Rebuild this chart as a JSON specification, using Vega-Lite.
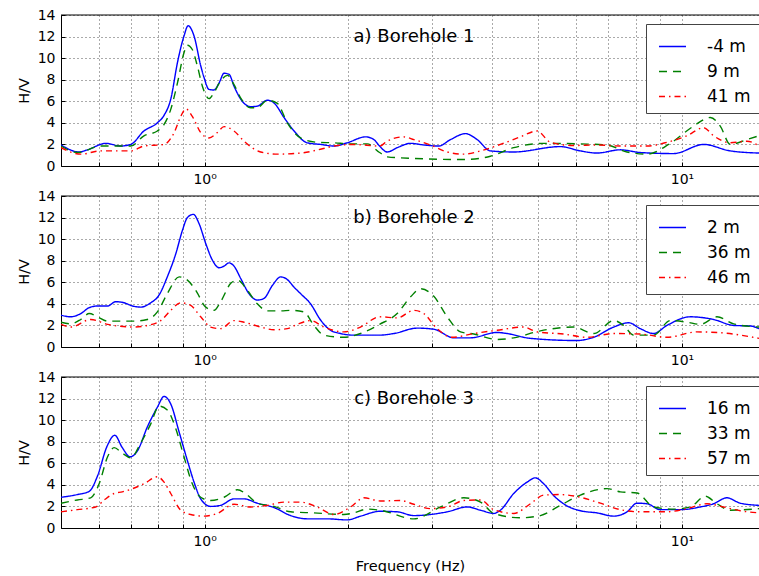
{
"$schema": "https://vega.github.io/schema/vega-lite/v6.json",
"padding": {"left": 16, "top": 8, "right": 0, "bottom": 0},
"background": "white",
"config": {
  "font": "DejaVu Sans",
  "view": {"stroke": null},
  "axis": {"labelFont": "DejaVu Sans", "labelFontSize": 14, "labelColor": "black", "labelOverlap": false, "titleFont": "DejaVu Sans", "titleFontSize": 14.5, "titleFontWeight": "normal", "titleColor": "black", "domainColor": "black", "domainWidth": 1, "gridColor": "#555555", "gridDash": [1, 3], "gridWidth": 1, "gridOpacity": 1, "tickColor": "black", "tickSize": -4, "tickWidth": 1},
  "axisX": {"labelPadding": 10, "titlePadding": 11},
  "axisY": {"labelPadding": 10, "titlePadding": 6},
  "title": {"font": "DejaVu Sans", "fontSize": 18, "fontWeight": "normal", "color": "black", "anchor": "middle", "frame": "group", "baseline": "alphabetic", "offset": -38, "dx": 4},
  "legend": {"orient": "none", "legendX": 585, "legendY": 9, "padding": 8, "fillColor": "white", "strokeColor": "#444444", "cornerRadius": 0, "labelFont": "DejaVu Sans", "labelFontSize": 17, "labelColor": "black", "symbolType": "stroke", "symbolSize": 729, "symbolStrokeWidth": 1.5, "symbolOffset": 4, "rowPadding": 2, "labelOffset": 20, "title": null}
},
"datasets": {"hv": [
{"bh":"a","depth":"-4 m","f":0.500,"hv":1.95},{"bh":"a","depth":"-4 m","f":0.546,"hv":1.3},{"bh":"a","depth":"-4 m","f":0.568,"hv":1.5},{"bh":"a","depth":"-4 m","f":0.621,"hv":2.1},{"bh":"a","depth":"-4 m","f":0.667,"hv":1.85},{"bh":"a","depth":"-4 m","f":0.700,"hv":2.0},{"bh":"a","depth":"-4 m","f":0.746,"hv":3.25},{"bh":"a","depth":"-4 m","f":0.796,"hv":4.0},{"bh":"a","depth":"-4 m","f":0.822,"hv":4.7},{"bh":"a","depth":"-4 m","f":0.849,"hv":6.2},{"bh":"a","depth":"-4 m","f":0.877,"hv":9.6},{"bh":"a","depth":"-4 m","f":0.905,"hv":12.05},{"bh":"a","depth":"-4 m","f":0.923,"hv":13.0},{"bh":"a","depth":"-4 m","f":0.950,"hv":12.05},{"bh":"a","depth":"-4 m","f":0.981,"hv":9.3},{"bh":"a","depth":"-4 m","f":0.997,"hv":8.2},{"bh":"a","depth":"-4 m","f":1.021,"hv":7.1},{"bh":"a","depth":"-4 m","f":1.046,"hv":7.05},{"bh":"a","depth":"-4 m","f":1.072,"hv":7.7},{"bh":"a","depth":"-4 m","f":1.098,"hv":8.6},{"bh":"a","depth":"-4 m","f":1.125,"hv":8.5},{"bh":"a","depth":"-4 m","f":1.152,"hv":7.4},{"bh":"a","depth":"-4 m","f":1.190,"hv":6.2},{"bh":"a","depth":"-4 m","f":1.248,"hv":5.5},{"bh":"a","depth":"-4 m","f":1.289,"hv":5.55},{"bh":"a","depth":"-4 m","f":1.353,"hv":6.1},{"bh":"a","depth":"-4 m","f":1.397,"hv":5.85},{"bh":"a","depth":"-4 m","f":1.466,"hv":4.5},{"bh":"a","depth":"-4 m","f":1.539,"hv":3.25},{"bh":"a","depth":"-4 m","f":1.640,"hv":2.15},{"bh":"a","depth":"-4 m","f":1.749,"hv":2.0},{"bh":"a","depth":"-4 m","f":1.865,"hv":1.85},{"bh":"a","depth":"-4 m","f":1.989,"hv":2.15},{"bh":"a","depth":"-4 m","f":2.173,"hv":2.7},{"bh":"a","depth":"-4 m","f":2.262,"hv":2.45},{"bh":"a","depth":"-4 m","f":2.325,"hv":1.85},{"bh":"a","depth":"-4 m","f":2.412,"hv":1.3},{"bh":"a","depth":"-4 m","f":2.531,"hv":1.7},{"bh":"a","depth":"-4 m","f":2.700,"hv":2.1},{"bh":"a","depth":"-4 m","f":2.879,"hv":1.95},{"bh":"a","depth":"-4 m","f":3.095,"hv":1.85},{"bh":"a","depth":"-4 m","f":3.274,"hv":2.45},{"bh":"a","depth":"-4 m","f":3.520,"hv":3.0},{"bh":"a","depth":"-4 m","f":3.723,"hv":2.45},{"bh":"a","depth":"-4 m","f":3.968,"hv":1.4},{"bh":"a","depth":"-4 m","f":4.441,"hv":1.3},{"bh":"a","depth":"-4 m","f":5.562,"hv":1.8},{"bh":"a","depth":"-4 m","f":6.125,"hv":1.4},{"bh":"a","depth":"-4 m","f":6.637,"hv":1.2},{"bh":"a","depth":"-4 m","f":7.428,"hv":1.5},{"bh":"a","depth":"-4 m","f":8.179,"hv":1.25},{"bh":"a","depth":"-4 m","f":9.605,"hv":1.15},{"bh":"a","depth":"-4 m","f":11.099,"hv":2.0},{"bh":"a","depth":"-4 m","f":12.623,"hv":1.4},{"bh":"a","depth":"-4 m","f":14.5,"hv":1.2},
{"bh":"a","depth":"9 m","f":0.500,"hv":1.85},{"bh":"a","depth":"9 m","f":0.541,"hv":1.25},{"bh":"a","depth":"9 m","f":0.606,"hv":1.85},{"bh":"a","depth":"9 m","f":0.700,"hv":1.85},{"bh":"a","depth":"9 m","f":0.746,"hv":2.8},{"bh":"a","depth":"9 m","f":0.796,"hv":3.25},{"bh":"a","depth":"9 m","f":0.822,"hv":3.85},{"bh":"a","depth":"9 m","f":0.849,"hv":5.25},{"bh":"a","depth":"9 m","f":0.877,"hv":7.7},{"bh":"a","depth":"9 m","f":0.905,"hv":10.5},{"bh":"a","depth":"9 m","f":0.920,"hv":11.2},{"bh":"a","depth":"9 m","f":0.942,"hv":10.8},{"bh":"a","depth":"9 m","f":0.965,"hv":9.3},{"bh":"a","depth":"9 m","f":0.989,"hv":7.4},{"bh":"a","depth":"9 m","f":1.021,"hv":6.25},{"bh":"a","depth":"9 m","f":1.046,"hv":6.8},{"bh":"a","depth":"9 m","f":1.080,"hv":7.9},{"bh":"a","depth":"9 m","f":1.116,"hv":8.4},{"bh":"a","depth":"9 m","f":1.152,"hv":7.55},{"bh":"a","depth":"9 m","f":1.190,"hv":6.3},{"bh":"a","depth":"9 m","f":1.248,"hv":5.4},{"bh":"a","depth":"9 m","f":1.289,"hv":5.4},{"bh":"a","depth":"9 m","f":1.353,"hv":6.1},{"bh":"a","depth":"9 m","f":1.420,"hv":5.8},{"bh":"a","depth":"9 m","f":1.490,"hv":4.0},{"bh":"a","depth":"9 m","f":1.588,"hv":2.6},{"bh":"a","depth":"9 m","f":1.721,"hv":2.2},{"bh":"a","depth":"9 m","f":1.865,"hv":2.15},{"bh":"a","depth":"9 m","f":2.021,"hv":2.05},{"bh":"a","depth":"9 m","f":2.190,"hv":2.05},{"bh":"a","depth":"9 m","f":2.325,"hv":1.25},{"bh":"a","depth":"9 m","f":2.412,"hv":0.85},{"bh":"a","depth":"9 m","f":2.743,"hv":0.7},{"bh":"a","depth":"9 m","f":3.492,"hv":0.6},{"bh":"a","depth":"9 m","f":3.968,"hv":0.9},{"bh":"a","depth":"9 m","f":4.441,"hv":1.7},{"bh":"a","depth":"9 m","f":5.132,"hv":2.1},{"bh":"a","depth":"9 m","f":6.125,"hv":2.05},{"bh":"a","depth":"9 m","f":6.965,"hv":1.95},{"bh":"a","depth":"9 m","f":7.670,"hv":1.3},{"bh":"a","depth":"9 m","f":8.446,"hv":1.1},{"bh":"a","depth":"9 m","f":9.452,"hv":2.1},{"bh":"a","depth":"9 m","f":10.577,"hv":3.7},{"bh":"a","depth":"9 m","f":11.462,"hv":4.5},{"bh":"a","depth":"9 m","f":12.028,"hv":3.7},{"bh":"a","depth":"9 m","f":12.623,"hv":2.0},{"bh":"a","depth":"9 m","f":13.678,"hv":2.45},{"bh":"a","depth":"9 m","f":14.5,"hv":2.8},
{"bh":"a","depth":"41 m","f":0.500,"hv":1.7},{"bh":"a","depth":"41 m","f":0.550,"hv":1.1},{"bh":"a","depth":"41 m","f":0.606,"hv":1.4},{"bh":"a","depth":"41 m","f":0.700,"hv":1.4},{"bh":"a","depth":"41 m","f":0.746,"hv":1.85},{"bh":"a","depth":"41 m","f":0.822,"hv":2.0},{"bh":"a","depth":"41 m","f":0.863,"hv":3.1},{"bh":"a","depth":"41 m","f":0.891,"hv":4.6},{"bh":"a","depth":"41 m","f":0.913,"hv":5.3},{"bh":"a","depth":"41 m","f":0.942,"hv":4.6},{"bh":"a","depth":"41 m","f":0.981,"hv":3.1},{"bh":"a","depth":"41 m","f":1.021,"hv":2.6},{"bh":"a","depth":"41 m","f":1.063,"hv":3.1},{"bh":"a","depth":"41 m","f":1.098,"hv":3.65},{"bh":"a","depth":"41 m","f":1.152,"hv":3.25},{"bh":"a","depth":"41 m","f":1.209,"hv":2.3},{"bh":"a","depth":"41 m","f":1.310,"hv":1.3},{"bh":"a","depth":"41 m","f":1.420,"hv":1.1},{"bh":"a","depth":"41 m","f":1.588,"hv":1.2},{"bh":"a","depth":"41 m","f":1.749,"hv":1.55},{"bh":"a","depth":"41 m","f":1.865,"hv":1.85},{"bh":"a","depth":"41 m","f":2.054,"hv":2.0},{"bh":"a","depth":"41 m","f":2.325,"hv":1.85},{"bh":"a","depth":"41 m","f":2.412,"hv":2.3},{"bh":"a","depth":"41 m","f":2.614,"hv":2.7},{"bh":"a","depth":"41 m","f":2.743,"hv":2.45},{"bh":"a","depth":"41 m","f":2.973,"hv":1.95},{"bh":"a","depth":"41 m","f":3.222,"hv":1.3},{"bh":"a","depth":"41 m","f":3.492,"hv":1.1},{"bh":"a","depth":"41 m","f":3.784,"hv":1.4},{"bh":"a","depth":"41 m","f":4.164,"hv":2.0},{"bh":"a","depth":"41 m","f":4.586,"hv":2.7},{"bh":"a","depth":"41 m","f":4.970,"hv":3.25},{"bh":"a","depth":"41 m","f":5.300,"hv":2.2},{"bh":"a","depth":"41 m","f":5.931,"hv":1.9},{"bh":"a","depth":"41 m","f":6.637,"hv":1.95},{"bh":"a","depth":"41 m","f":7.428,"hv":1.85},{"bh":"a","depth":"41 m","f":8.446,"hv":1.85},{"bh":"a","depth":"41 m","f":9.301,"hv":2.2},{"bh":"a","depth":"41 m","f":10.242,"hv":2.8},{"bh":"a","depth":"41 m","f":11.099,"hv":3.55},{"bh":"a","depth":"41 m","f":11.648,"hv":2.8},{"bh":"a","depth":"41 m","f":12.623,"hv":2.15},{"bh":"a","depth":"41 m","f":13.678,"hv":2.3},{"bh":"a","depth":"41 m","f":14.5,"hv":1.85},
{"bh":"b","depth":"2 m","f":0.500,"hv":2.95},{"bh":"b","depth":"2 m","f":0.524,"hv":2.8},{"bh":"b","depth":"2 m","f":0.550,"hv":3.1},{"bh":"b","depth":"2 m","f":0.573,"hv":3.65},{"bh":"b","depth":"2 m","f":0.596,"hv":3.8},{"bh":"b","depth":"2 m","f":0.626,"hv":3.8},{"bh":"b","depth":"2 m","f":0.651,"hv":4.2},{"bh":"b","depth":"2 m","f":0.678,"hv":4.1},{"bh":"b","depth":"2 m","f":0.706,"hv":3.8},{"bh":"b","depth":"2 m","f":0.735,"hv":3.7},{"bh":"b","depth":"2 m","f":0.771,"hv":4.1},{"bh":"b","depth":"2 m","f":0.802,"hv":4.8},{"bh":"b","depth":"2 m","f":0.835,"hv":6.5},{"bh":"b","depth":"2 m","f":0.870,"hv":8.65},{"bh":"b","depth":"2 m","f":0.898,"hv":10.8},{"bh":"b","depth":"2 m","f":0.920,"hv":12.0},{"bh":"b","depth":"2 m","f":0.947,"hv":12.3},{"bh":"b","depth":"2 m","f":0.973,"hv":11.45},{"bh":"b","depth":"2 m","f":1.005,"hv":9.6},{"bh":"b","depth":"2 m","f":1.038,"hv":8.05},{"bh":"b","depth":"2 m","f":1.072,"hv":7.35},{"bh":"b","depth":"2 m","f":1.098,"hv":7.5},{"bh":"b","depth":"2 m","f":1.125,"hv":7.8},{"bh":"b","depth":"2 m","f":1.152,"hv":7.5},{"bh":"b","depth":"2 m","f":1.190,"hv":6.35},{"bh":"b","depth":"2 m","f":1.238,"hv":4.95},{"bh":"b","depth":"2 m","f":1.289,"hv":4.35},{"bh":"b","depth":"2 m","f":1.331,"hv":4.5},{"bh":"b","depth":"2 m","f":1.386,"hv":5.7},{"bh":"b","depth":"2 m","f":1.443,"hv":6.5},{"bh":"b","depth":"2 m","f":1.490,"hv":6.25},{"bh":"b","depth":"2 m","f":1.539,"hv":5.55},{"bh":"b","depth":"2 m","f":1.588,"hv":4.95},{"bh":"b","depth":"2 m","f":1.667,"hv":4.0},{"bh":"b","depth":"2 m","f":1.749,"hv":2.5},{"bh":"b","depth":"2 m","f":1.835,"hv":1.55},{"bh":"b","depth":"2 m","f":1.926,"hv":1.25},{"bh":"b","depth":"2 m","f":2.054,"hv":1.1},{"bh":"b","depth":"2 m","f":2.325,"hv":1.1},{"bh":"b","depth":"2 m","f":2.491,"hv":1.25},{"bh":"b","depth":"2 m","f":2.788,"hv":1.75},{"bh":"b","depth":"2 m","f":3.021,"hv":1.65},{"bh":"b","depth":"2 m","f":3.327,"hv":0.85},{"bh":"b","depth":"2 m","f":3.606,"hv":0.85},{"bh":"b","depth":"2 m","f":4.098,"hv":1.35},{"bh":"b","depth":"2 m","f":4.300,"hv":1.25},{"bh":"b","depth":"2 m","f":4.813,"hv":0.8},{"bh":"b","depth":"2 m","f":6.027,"hv":0.6},{"bh":"b","depth":"2 m","f":6.531,"hv":0.9},{"bh":"b","depth":"2 m","f":7.193,"hv":1.85},{"bh":"b","depth":"2 m","f":7.732,"hv":2.25},{"bh":"b","depth":"2 m","f":8.179,"hv":1.7},{"bh":"b","depth":"2 m","f":8.722,"hv":1.25},{"bh":"b","depth":"2 m","f":9.301,"hv":2.0},{"bh":"b","depth":"2 m","f":10.408,"hv":2.8},{"bh":"b","depth":"2 m","f":11.648,"hv":2.55},{"bh":"b","depth":"2 m","f":12.827,"hv":2.0},{"bh":"b","depth":"2 m","f":13.899,"hv":1.95},{"bh":"b","depth":"2 m","f":14.5,"hv":1.7},
{"bh":"b","depth":"36 m","f":0.500,"hv":2.3},{"bh":"b","depth":"36 m","f":0.524,"hv":2.15},{"bh":"b","depth":"36 m","f":0.550,"hv":2.55},{"bh":"b","depth":"36 m","f":0.573,"hv":3.1},{"bh":"b","depth":"36 m","f":0.596,"hv":2.8},{"bh":"b","depth":"36 m","f":0.626,"hv":2.4},{"bh":"b","depth":"36 m","f":0.711,"hv":2.4},{"bh":"b","depth":"36 m","f":0.758,"hv":2.55},{"bh":"b","depth":"36 m","f":0.796,"hv":3.25},{"bh":"b","depth":"36 m","f":0.835,"hv":4.95},{"bh":"b","depth":"36 m","f":0.884,"hv":6.5},{"bh":"b","depth":"36 m","f":0.920,"hv":6.2},{"bh":"b","depth":"36 m","f":0.958,"hv":5.25},{"bh":"b","depth":"36 m","f":1.005,"hv":3.7},{"bh":"b","depth":"36 m","f":1.046,"hv":3.4},{"bh":"b","depth":"36 m","f":1.080,"hv":4.2},{"bh":"b","depth":"36 m","f":1.134,"hv":5.9},{"bh":"b","depth":"36 m","f":1.171,"hv":6.2},{"bh":"b","depth":"36 m","f":1.229,"hv":5.25},{"bh":"b","depth":"36 m","f":1.289,"hv":4.0},{"bh":"b","depth":"36 m","f":1.353,"hv":3.35},{"bh":"b","depth":"36 m","f":1.443,"hv":3.35},{"bh":"b","depth":"36 m","f":1.514,"hv":3.4},{"bh":"b","depth":"36 m","f":1.614,"hv":3.25},{"bh":"b","depth":"36 m","f":1.694,"hv":2.0},{"bh":"b","depth":"36 m","f":1.777,"hv":1.1},{"bh":"b","depth":"36 m","f":1.957,"hv":0.9},{"bh":"b","depth":"36 m","f":2.121,"hv":1.25},{"bh":"b","depth":"36 m","f":2.325,"hv":2.1},{"bh":"b","depth":"36 m","f":2.531,"hv":3.1},{"bh":"b","depth":"36 m","f":2.700,"hv":4.65},{"bh":"b","depth":"36 m","f":2.833,"hv":5.4},{"bh":"b","depth":"36 m","f":3.021,"hv":4.7},{"bh":"b","depth":"36 m","f":3.222,"hv":2.8},{"bh":"b","depth":"36 m","f":3.436,"hv":1.4},{"bh":"b","depth":"36 m","f":3.664,"hv":1.2},{"bh":"b","depth":"36 m","f":4.098,"hv":0.7},{"bh":"b","depth":"36 m","f":4.441,"hv":0.85},{"bh":"b","depth":"36 m","f":5.050,"hv":1.5},{"bh":"b","depth":"36 m","f":5.931,"hv":1.85},{"bh":"b","depth":"36 m","f":6.531,"hv":1.25},{"bh":"b","depth":"36 m","f":7.193,"hv":2.45},{"bh":"b","depth":"36 m","f":7.548,"hv":2.0},{"bh":"b","depth":"36 m","f":7.920,"hv":1.1},{"bh":"b","depth":"36 m","f":8.722,"hv":1.1},{"bh":"b","depth":"36 m","f":9.452,"hv":2.45},{"bh":"b","depth":"36 m","f":10.242,"hv":2.3},{"bh":"b","depth":"36 m","f":10.923,"hv":2.1},{"bh":"b","depth":"36 m","f":11.837,"hv":2.8},{"bh":"b","depth":"36 m","f":12.827,"hv":2.15},{"bh":"b","depth":"36 m","f":14.5,"hv":1.85},
{"bh":"b","depth":"46 m","f":0.500,"hv":2.1},{"bh":"b","depth":"46 m","f":0.524,"hv":1.85},{"bh":"b","depth":"46 m","f":0.577,"hv":2.55},{"bh":"b","depth":"46 m","f":0.626,"hv":2.1},{"bh":"b","depth":"46 m","f":0.711,"hv":1.85},{"bh":"b","depth":"46 m","f":0.758,"hv":2.0},{"bh":"b","depth":"46 m","f":0.809,"hv":2.45},{"bh":"b","depth":"46 m","f":0.849,"hv":3.4},{"bh":"b","depth":"46 m","f":0.891,"hv":4.1},{"bh":"b","depth":"46 m","f":0.935,"hv":3.85},{"bh":"b","depth":"46 m","f":0.981,"hv":2.8},{"bh":"b","depth":"46 m","f":1.029,"hv":1.85},{"bh":"b","depth":"46 m","f":1.080,"hv":1.7},{"bh":"b","depth":"46 m","f":1.152,"hv":2.45},{"bh":"b","depth":"46 m","f":1.209,"hv":2.3},{"bh":"b","depth":"46 m","f":1.310,"hv":1.85},{"bh":"b","depth":"46 m","f":1.397,"hv":1.6},{"bh":"b","depth":"46 m","f":1.490,"hv":1.7},{"bh":"b","depth":"46 m","f":1.563,"hv":2.1},{"bh":"b","depth":"46 m","f":1.667,"hv":2.45},{"bh":"b","depth":"46 m","f":1.777,"hv":1.85},{"bh":"b","depth":"46 m","f":1.957,"hv":1.4},{"bh":"b","depth":"46 m","f":2.121,"hv":1.85},{"bh":"b","depth":"46 m","f":2.325,"hv":2.8},{"bh":"b","depth":"46 m","f":2.531,"hv":2.7},{"bh":"b","depth":"46 m","f":2.743,"hv":3.4},{"bh":"b","depth":"46 m","f":2.879,"hv":3.1},{"bh":"b","depth":"46 m","f":3.046,"hv":1.85},{"bh":"b","depth":"46 m","f":3.301,"hv":0.9},{"bh":"b","depth":"46 m","f":3.664,"hv":1.25},{"bh":"b","depth":"46 m","f":4.098,"hv":1.55},{"bh":"b","depth":"46 m","f":4.660,"hv":1.85},{"bh":"b","depth":"46 m","f":4.970,"hv":1.4},{"bh":"b","depth":"46 m","f":5.652,"hv":1.2},{"bh":"b","depth":"46 m","f":6.325,"hv":0.9},{"bh":"b","depth":"46 m","f":7.193,"hv":1.25},{"bh":"b","depth":"46 m","f":8.179,"hv":1.2},{"bh":"b","depth":"46 m","f":9.301,"hv":0.9},{"bh":"b","depth":"46 m","f":10.748,"hv":1.4},{"bh":"b","depth":"46 m","f":12.223,"hv":1.3},{"bh":"b","depth":"46 m","f":14.5,"hv":0.8},
{"bh":"c","depth":"16 m","f":0.500,"hv":2.85},{"bh":"c","depth":"16 m","f":0.541,"hv":3.1},{"bh":"c","depth":"16 m","f":0.573,"hv":3.4},{"bh":"c","depth":"16 m","f":0.596,"hv":4.8},{"bh":"c","depth":"16 m","f":0.624,"hv":7.55},{"bh":"c","depth":"16 m","f":0.648,"hv":8.6},{"bh":"c","depth":"16 m","f":0.672,"hv":7.45},{"bh":"c","depth":"16 m","f":0.698,"hv":6.6},{"bh":"c","depth":"16 m","f":0.723,"hv":7.15},{"bh":"c","depth":"16 m","f":0.758,"hv":9.35},{"bh":"c","depth":"16 m","f":0.796,"hv":11.2},{"bh":"c","depth":"16 m","f":0.822,"hv":12.2},{"bh":"c","depth":"16 m","f":0.849,"hv":11.5},{"bh":"c","depth":"16 m","f":0.884,"hv":8.9},{"bh":"c","depth":"16 m","f":0.920,"hv":6.25},{"bh":"c","depth":"16 m","f":0.950,"hv":4.25},{"bh":"c","depth":"16 m","f":0.981,"hv":2.7},{"bh":"c","depth":"16 m","f":1.029,"hv":2.0},{"bh":"c","depth":"16 m","f":1.080,"hv":2.1},{"bh":"c","depth":"16 m","f":1.152,"hv":2.7},{"bh":"c","depth":"16 m","f":1.209,"hv":2.7},{"bh":"c","depth":"16 m","f":1.289,"hv":2.3},{"bh":"c","depth":"16 m","f":1.397,"hv":1.9},{"bh":"c","depth":"16 m","f":1.514,"hv":1.15},{"bh":"c","depth":"16 m","f":1.640,"hv":0.85},{"bh":"c","depth":"16 m","f":1.806,"hv":0.85},{"bh":"c","depth":"16 m","f":1.989,"hv":0.75},{"bh":"c","depth":"16 m","f":2.121,"hv":1.1},{"bh":"c","depth":"16 m","f":2.330,"hv":1.55},{"bh":"c","depth":"16 m","f":2.531,"hv":1.5},{"bh":"c","depth":"16 m","f":2.743,"hv":1.15},{"bh":"c","depth":"16 m","f":3.222,"hv":1.5},{"bh":"c","depth":"16 m","f":3.548,"hv":1.95},{"bh":"c","depth":"16 m","f":3.784,"hv":1.65},{"bh":"c","depth":"16 m","f":4.033,"hv":1.35},{"bh":"c","depth":"16 m","f":4.164,"hv":1.65},{"bh":"c","depth":"16 m","f":4.441,"hv":3.2},{"bh":"c","depth":"16 m","f":4.736,"hv":4.25},{"bh":"c","depth":"16 m","f":4.930,"hv":4.65},{"bh":"c","depth":"16 m","f":5.132,"hv":4.1},{"bh":"c","depth":"16 m","f":5.386,"hv":3.0},{"bh":"c","depth":"16 m","f":5.743,"hv":2.05},{"bh":"c","depth":"16 m","f":6.125,"hv":1.6},{"bh":"c","depth":"16 m","f":6.637,"hv":1.4},{"bh":"c","depth":"16 m","f":7.193,"hv":1.1},{"bh":"c","depth":"16 m","f":7.670,"hv":1.5},{"bh":"c","depth":"16 m","f":8.049,"hv":2.3},{"bh":"c","depth":"16 m","f":8.446,"hv":2.25},{"bh":"c","depth":"16 m","f":9.007,"hv":1.7},{"bh":"c","depth":"16 m","f":9.918,"hv":1.7},{"bh":"c","depth":"16 m","f":10.923,"hv":1.95},{"bh":"c","depth":"16 m","f":11.648,"hv":2.25},{"bh":"c","depth":"16 m","f":12.421,"hv":2.8},{"bh":"c","depth":"16 m","f":13.246,"hv":2.3},{"bh":"c","depth":"16 m","f":14.5,"hv":2.1},
{"bh":"c","depth":"33 m","f":0.500,"hv":2.3},{"bh":"c","depth":"33 m","f":0.541,"hv":2.6},{"bh":"c","depth":"33 m","f":0.577,"hv":2.8},{"bh":"c","depth":"33 m","f":0.601,"hv":4.1},{"bh":"c","depth":"33 m","f":0.626,"hv":6.6},{"bh":"c","depth":"33 m","f":0.646,"hv":7.45},{"bh":"c","depth":"33 m","f":0.672,"hv":6.95},{"bh":"c","depth":"33 m","f":0.700,"hv":6.5},{"bh":"c","depth":"33 m","f":0.735,"hv":7.9},{"bh":"c","depth":"33 m","f":0.771,"hv":9.65},{"bh":"c","depth":"33 m","f":0.802,"hv":11.3},{"bh":"c","depth":"33 m","f":0.835,"hv":10.95},{"bh":"c","depth":"33 m","f":0.870,"hv":9.2},{"bh":"c","depth":"33 m","f":0.905,"hv":6.6},{"bh":"c","depth":"33 m","f":0.942,"hv":4.1},{"bh":"c","depth":"33 m","f":0.981,"hv":2.85},{"bh":"c","depth":"33 m","f":1.029,"hv":2.55},{"bh":"c","depth":"33 m","f":1.098,"hv":2.85},{"bh":"c","depth":"33 m","f":1.171,"hv":3.55},{"bh":"c","depth":"33 m","f":1.229,"hv":3.05},{"bh":"c","depth":"33 m","f":1.289,"hv":2.3},{"bh":"c","depth":"33 m","f":1.397,"hv":2.0},{"bh":"c","depth":"33 m","f":1.514,"hv":1.5},{"bh":"c","depth":"33 m","f":1.694,"hv":1.4},{"bh":"c","depth":"33 m","f":1.957,"hv":1.25},{"bh":"c","depth":"33 m","f":2.054,"hv":1.4},{"bh":"c","depth":"33 m","f":2.190,"hv":1.75},{"bh":"c","depth":"33 m","f":2.330,"hv":1.65},{"bh":"c","depth":"33 m","f":2.743,"hv":0.85},{"bh":"c","depth":"33 m","f":3.120,"hv":1.95},{"bh":"c","depth":"33 m","f":3.492,"hv":2.8},{"bh":"c","depth":"33 m","f":3.784,"hv":2.4},{"bh":"c","depth":"33 m","f":4.033,"hv":1.35},{"bh":"c","depth":"33 m","f":4.586,"hv":0.95},{"bh":"c","depth":"33 m","f":5.050,"hv":1.15},{"bh":"c","depth":"33 m","f":5.562,"hv":2.1},{"bh":"c","depth":"33 m","f":6.125,"hv":3.05},{"bh":"c","depth":"33 m","f":6.965,"hv":3.65},{"bh":"c","depth":"33 m","f":7.428,"hv":3.35},{"bh":"c","depth":"33 m","f":8.049,"hv":3.25},{"bh":"c","depth":"33 m","f":8.722,"hv":1.95},{"bh":"c","depth":"33 m","f":9.605,"hv":1.75},{"bh":"c","depth":"33 m","f":10.408,"hv":1.95},{"bh":"c","depth":"33 m","f":11.189,"hv":2.95},{"bh":"c","depth":"33 m","f":11.837,"hv":2.25},{"bh":"c","depth":"33 m","f":12.623,"hv":1.65},{"bh":"c","depth":"33 m","f":14.5,"hv":1.8},
{"bh":"c","depth":"57 m","f":0.500,"hv":1.5},{"bh":"c","depth":"57 m","f":0.541,"hv":1.7},{"bh":"c","depth":"57 m","f":0.591,"hv":1.95},{"bh":"c","depth":"57 m","f":0.616,"hv":2.6},{"bh":"c","depth":"57 m","f":0.646,"hv":3.2},{"bh":"c","depth":"57 m","f":0.672,"hv":3.35},{"bh":"c","depth":"57 m","f":0.706,"hv":3.65},{"bh":"c","depth":"57 m","f":0.746,"hv":4.1},{"bh":"c","depth":"57 m","f":0.796,"hv":4.75},{"bh":"c","depth":"57 m","f":0.822,"hv":4.25},{"bh":"c","depth":"57 m","f":0.849,"hv":3.2},{"bh":"c","depth":"57 m","f":0.891,"hv":1.65},{"bh":"c","depth":"57 m","f":0.935,"hv":1.25},{"bh":"c","depth":"57 m","f":0.997,"hv":1.1},{"bh":"c","depth":"57 m","f":1.063,"hv":1.35},{"bh":"c","depth":"57 m","f":1.152,"hv":2.2},{"bh":"c","depth":"57 m","f":1.248,"hv":1.95},{"bh":"c","depth":"57 m","f":1.353,"hv":2.1},{"bh":"c","depth":"57 m","f":1.466,"hv":2.4},{"bh":"c","depth":"57 m","f":1.588,"hv":2.4},{"bh":"c","depth":"57 m","f":1.721,"hv":1.95},{"bh":"c","depth":"57 m","f":1.865,"hv":1.25},{"bh":"c","depth":"57 m","f":2.021,"hv":1.95},{"bh":"c","depth":"57 m","f":2.155,"hv":2.8},{"bh":"c","depth":"57 m","f":2.336,"hv":2.5},{"bh":"c","depth":"57 m","f":2.572,"hv":2.55},{"bh":"c","depth":"57 m","f":2.743,"hv":2.2},{"bh":"c","depth":"57 m","f":2.973,"hv":1.8},{"bh":"c","depth":"57 m","f":3.222,"hv":1.95},{"bh":"c","depth":"57 m","f":3.492,"hv":2.55},{"bh":"c","depth":"57 m","f":3.784,"hv":2.6},{"bh":"c","depth":"57 m","f":4.033,"hv":1.7},{"bh":"c","depth":"57 m","f":4.441,"hv":1.35},{"bh":"c","depth":"57 m","f":4.813,"hv":2.25},{"bh":"c","depth":"57 m","f":5.132,"hv":3.05},{"bh":"c","depth":"57 m","f":5.562,"hv":3.1},{"bh":"c","depth":"57 m","f":6.125,"hv":2.85},{"bh":"c","depth":"57 m","f":6.745,"hv":2.3},{"bh":"c","depth":"57 m","f":7.428,"hv":1.7},{"bh":"c","depth":"57 m","f":8.179,"hv":1.5},{"bh":"c","depth":"57 m","f":9.301,"hv":1.5},{"bh":"c","depth":"57 m","f":10.242,"hv":1.8},{"bh":"c","depth":"57 m","f":11.279,"hv":2.25},{"bh":"c","depth":"57 m","f":12.223,"hv":1.95},{"bh":"c","depth":"57 m","f":13.246,"hv":1.6},{"bh":"c","depth":"57 m","f":14.5,"hv":1.4}
]},
"spacing": 30,
"bounds": "flush",
"resolve": {"scale": {"color": "independent", "strokeDash": "independent"}, "legend": {"color": "independent", "strokeDash": "independent"}},
"vconcat": [
 {"width": 698, "height": 151, "title": {"text": "a) Borehole 1"},
  "layer": [
   {"data": {"name": "hv"}, "transform": [{"filter": "datum.bh == 'a'"}],
    "mark": {"type": "line", "interpolate": "monotone", "strokeWidth": 1.4, "clip": true},
    "encoding": {
     "x": {"field": "f", "type": "quantitative", "scale": {"type": "log", "domain": [0.5, 14.5], "nice": false}, "axis": {"values": [0.6, 0.7, 0.8, 0.9, 1, 2, 3, 4, 5, 6, 7, 8, 9, 10], "labelExpr": "datum.value == 1 ? '10⁰' : (datum.value == 10 ? '10¹' : '')", "labelOverlap": false, "labelFlush": false, "title": null}},
     "y": {"field": "hv", "type": "quantitative", "scale": {"domain": [0, 14], "nice": false}, "axis": {"values": [0, 2, 4, 6, 8, 10, 12, 14], "labelOverlap": false, "labelFlush": false, "title": "H/V"}},
     "color": {"field": "depth", "type": "nominal", "scale": {"domain": ["-4 m", "9 m", "41 m"], "range": ["#0000ff", "#008000", "#ff0000"]}, "legend": {"title": null}},
     "strokeDash": {"field": "depth", "type": "nominal", "scale": {"domain": ["-4 m", "9 m", "41 m"], "range": [[1, 0], [8, 6], [6, 4, 1.5, 4]]}, "legend": {"title": null}}
    }},
   {"data": {"values": [{}]}, "mark": {"type": "rule", "color": "black", "strokeWidth": 1}, "encoding": {"y": {"datum": 14, "type": "quantitative", "axis": {"values": [0, 2, 4, 6, 8, 10, 12, 14], "labelOverlap": false, "labelFlush": false, "title": "H/V"}}}}
  ]},
 {"width": 698, "height": 151, "title": {"text": "b) Borehole 2"},
  "layer": [
   {"data": {"name": "hv"}, "transform": [{"filter": "datum.bh == 'b'"}],
    "mark": {"type": "line", "interpolate": "monotone", "strokeWidth": 1.4, "clip": true},
    "encoding": {
     "x": {"field": "f", "type": "quantitative", "scale": {"type": "log", "domain": [0.5, 14.5], "nice": false}, "axis": {"values": [0.6, 0.7, 0.8, 0.9, 1, 2, 3, 4, 5, 6, 7, 8, 9, 10], "labelExpr": "datum.value == 1 ? '10⁰' : (datum.value == 10 ? '10¹' : '')", "labelOverlap": false, "labelFlush": false, "title": null}},
     "y": {"field": "hv", "type": "quantitative", "scale": {"domain": [0, 14], "nice": false}, "axis": {"values": [0, 2, 4, 6, 8, 10, 12, 14], "labelOverlap": false, "labelFlush": false, "title": "H/V"}},
     "color": {"field": "depth", "type": "nominal", "scale": {"domain": ["2 m", "36 m", "46 m"], "range": ["#0000ff", "#008000", "#ff0000"]}, "legend": {"title": null}},
     "strokeDash": {"field": "depth", "type": "nominal", "scale": {"domain": ["2 m", "36 m", "46 m"], "range": [[1, 0], [8, 6], [6, 4, 1.5, 4]]}, "legend": {"title": null}}
    }},
   {"data": {"values": [{}]}, "mark": {"type": "rule", "color": "black", "strokeWidth": 1}, "encoding": {"y": {"datum": 14, "type": "quantitative", "axis": {"values": [0, 2, 4, 6, 8, 10, 12, 14], "labelOverlap": false, "labelFlush": false, "title": "H/V"}}}}
  ]},
 {"width": 698, "height": 151, "title": {"text": "c) Borehole 3"},
  "layer": [
   {"data": {"name": "hv"}, "transform": [{"filter": "datum.bh == 'c'"}],
    "mark": {"type": "line", "interpolate": "monotone", "strokeWidth": 1.4, "clip": true},
    "encoding": {
     "x": {"field": "f", "type": "quantitative", "scale": {"type": "log", "domain": [0.5, 14.5], "nice": false}, "axis": {"values": [0.6, 0.7, 0.8, 0.9, 1, 2, 3, 4, 5, 6, 7, 8, 9, 10], "labelExpr": "datum.value == 1 ? '10⁰' : (datum.value == 10 ? '10¹' : '')", "labelOverlap": false, "labelFlush": false, "title": "Frequency (Hz)"}},
     "y": {"field": "hv", "type": "quantitative", "scale": {"domain": [0, 14], "nice": false}, "axis": {"values": [0, 2, 4, 6, 8, 10, 12, 14], "labelOverlap": false, "labelFlush": false, "title": "H/V"}},
     "color": {"field": "depth", "type": "nominal", "scale": {"domain": ["16 m", "33 m", "57 m"], "range": ["#0000ff", "#008000", "#ff0000"]}, "legend": {"title": null}},
     "strokeDash": {"field": "depth", "type": "nominal", "scale": {"domain": ["16 m", "33 m", "57 m"], "range": [[1, 0], [8, 6], [6, 4, 1.5, 4]]}, "legend": {"title": null}}
    }},
   {"data": {"values": [{}]}, "mark": {"type": "rule", "color": "black", "strokeWidth": 1}, "encoding": {"y": {"datum": 14, "type": "quantitative", "axis": {"values": [0, 2, 4, 6, 8, 10, 12, 14], "labelOverlap": false, "labelFlush": false, "title": "H/V"}}}}
  ]}
]
}
